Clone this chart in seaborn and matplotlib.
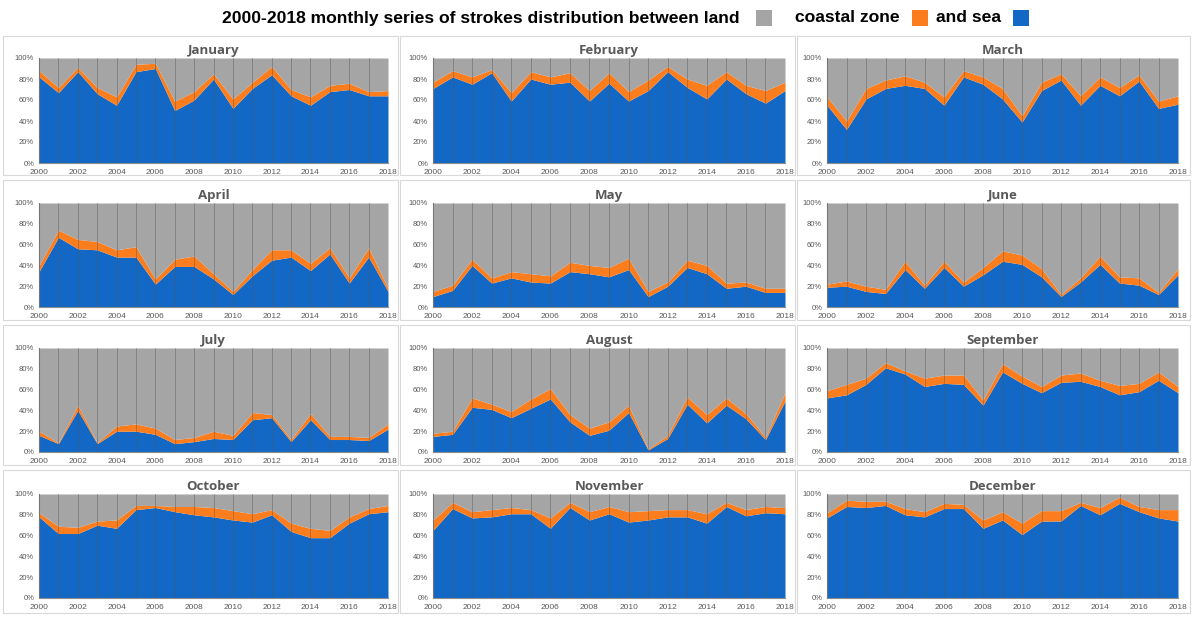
"""
2000-2018 monthly share of strokes over land, coastal zone and sea.
Stacked area panels, one per month.
"""

import matplotlib
matplotlib.use("Agg")
import matplotlib.pyplot as plt
from matplotlib.patches import Rectangle
from matplotlib.ticker import PercentFormatter
import numpy as np
import seaborn as sns

years = list(range(2000, 2019))
months = ["January", "February", "March", "April", "May", "June",
          "July", "August", "September", "October", "November", "December"]

# share over sea (%) and cumulative share sea + coastal zone (%); land is the rest
jan_sea = [82, 67, 87, 66, 55, 87, 90, 50, 60, 80, 52, 71, 84, 64, 55, 68, 70, 64, 64]
jan_top = [88, 72, 91, 72, 63, 94, 95, 59, 68, 85, 61, 77, 92, 70, 63, 74, 76, 68, 69]
feb_sea = [71, 82, 75, 86, 59, 80, 75, 77, 59, 76, 59, 69, 87, 72, 61, 80, 66, 57, 69]
feb_top = [77, 88, 82, 89, 67, 87, 82, 86, 69, 86, 68, 79, 92, 80, 74, 87, 74, 69, 77]
mar_sea = [55, 32, 61, 71, 74, 71, 55, 82, 75, 61, 39, 69, 79, 55, 74, 64, 78, 52, 56]
mar_top = [63, 40, 71, 79, 83, 77, 63, 88, 82, 71, 45, 77, 85, 64, 82, 72, 84, 59, 64]
apr_sea = [34, 67, 56, 55, 48, 48, 22, 39, 39, 27, 12, 30, 45, 48, 35, 51, 23, 48, 15]
apr_top = [40, 74, 65, 63, 55, 58, 27, 46, 49, 32, 15, 36, 55, 55, 42, 57, 28, 57, 18]
may_sea = [10, 16, 40, 23, 28, 24, 23, 34, 32, 29, 36, 10, 20, 38, 32, 18, 20, 14, 14]
may_top = [15, 21, 46, 28, 34, 32, 30, 43, 40, 38, 47, 15, 24, 45, 40, 23, 24, 18, 18]
jun_sea = [19, 20, 15, 13, 36, 18, 38, 20, 31, 44, 41, 29, 10, 24, 41, 23, 21, 12, 31]
jun_top = [22, 25, 20, 17, 44, 21, 44, 24, 38, 54, 50, 37, 12, 28, 49, 29, 28, 14, 37]
jul_sea = [16, 8, 40, 8, 20, 20, 17, 8, 10, 13, 12, 31, 33, 10, 31, 12, 12, 11, 22]
jul_top = [20, 9, 45, 9, 25, 27, 23, 12, 14, 20, 16, 38, 36, 12, 37, 15, 15, 14, 27]
aug_sea = [15, 17, 43, 41, 33, 42, 51, 29, 16, 21, 38, 2, 13, 46, 28, 45, 32, 12, 49]
aug_top = [18, 20, 52, 46, 39, 51, 61, 36, 23, 29, 45, 3, 16, 53, 36, 52, 37, 14, 57]
sep_sea = [52, 55, 65, 81, 75, 63, 66, 65, 45, 77, 66, 57, 67, 68, 63, 55, 58, 69, 57]
sep_top = [59, 65, 71, 86, 78, 71, 74, 74, 50, 85, 73, 63, 74, 76, 69, 64, 66, 77, 63]
oct_sea = [78, 62, 62, 70, 67, 85, 87, 83, 80, 78, 75, 73, 80, 64, 58, 58, 72, 81, 83]
oct_top = [82, 69, 68, 74, 75, 89, 89, 88, 88, 87, 84, 81, 85, 72, 67, 65, 78, 86, 89]
nov_sea = [65, 86, 77, 78, 81, 81, 67, 87, 75, 81, 73, 75, 78, 78, 72, 88, 79, 82, 81]
nov_top = [75, 92, 83, 85, 87, 85, 77, 92, 83, 88, 83, 84, 85, 85, 81, 92, 85, 88, 87]
dec_sea = [77, 88, 87, 89, 80, 78, 86, 86, 67, 75, 61, 74, 74, 89, 80, 91, 83, 77, 74]
dec_top = [82, 94, 93, 93, 86, 83, 91, 90, 75, 83, 72, 84, 84, 92, 87, 97, 88, 85, 85]

sea_series = [jan_sea, feb_sea, mar_sea, apr_sea, may_sea, jun_sea,
              jul_sea, aug_sea, sep_sea, oct_sea, nov_sea, dec_sea]
top_series = [jan_top, feb_top, mar_top, apr_top, may_top, jun_top,
              jul_top, aug_top, sep_top, oct_top, nov_top, dec_top]

LAND = "#a5a5a5"
COAST = "#fb7d1e"
SEA = "#1268c4"
TEXT = "#595959"

sns.set_theme(style="white")
plt.rcParams["font.family"] = ["Liberation Sans", "DejaVu Sans"]

W, H = 1192, 617
fig = plt.figure(figsize=(W / 100, H / 100), dpi=100)

# panel plot areas in pixels: left x, right x; top y, bottom y
col_x = [(39, 388), (433, 785), (827, 1178)]
row_y = [(58, 163), (203, 307), (348, 452), (494, 598)]

for i, month in enumerate(months):
    r, c = divmod(i, 3)
    x0, x1 = col_x[c]
    y0, y1 = row_y[r]
    ax = fig.add_axes([x0 / W, 1 - y1 / H, (x1 - x0) / W, (y1 - y0) / H])

    sea = np.array(sea_series[i])
    top = np.array(top_series[i])
    coast = top - sea
    land = 100 - top
    ax.stackplot(years, sea, coast, land, colors=[SEA, COAST, LAND], linewidth=0)

    for yr in years:
        ax.axvline(yr, color="#555555", lw=0.6, alpha=0.5, zorder=3)

    ax.set_xlim(2000, 2018)
    ax.set_ylim(0, 100)
    ax.set_yticks(range(0, 101, 20))
    ax.yaxis.set_major_formatter(PercentFormatter(decimals=0))
    ax.set_xticks(years[::2])
    ax.set_xticks(years, minor=True)
    ax.tick_params(axis="both", labelsize=5.5, colors=TEXT, length=2, width=0.6, pad=1.5)
    ax.tick_params(axis="x", which="minor", length=2, width=0.6, color=TEXT)
    ax.tick_params(axis="x", labelsize=6, pad=2)
    sns.despine(ax=ax, top=True, right=True)
    for s in ("left", "bottom"):
        ax.spines[s].set_color("#8c8c8c")
        ax.spines[s].set_linewidth(0.8)
    ax.set_title(month, fontsize=9.5, fontweight="bold", color=TEXT, pad=3,
                 family=["Open Sans", "DejaVu Sans"])

# thin frames around each panel
for c, (x0, x1) in enumerate([(3, 398), (400, 795), (797, 1190)]):
    for r, (y0, y1) in enumerate([(36, 175), (180, 320), (325, 465), (470, 613)]):
        fig.patches.append(Rectangle((x0 / W, 1 - y1 / H), (x1 - x0) / W, (y1 - y0) / H,
                                     transform=fig.transFigure, fill=False,
                                     edgecolor="#d9d9d9", lw=0.8))

# title with inline legend swatches
ty = 1 - 18 / H
fig.text(222 / W, ty, "2000-2018 monthly series of strokes distribution between land",
         fontsize=12.6, fontweight="bold", va="center", ha="left", color="black")
fig.text(795 / W, ty, "coastal zone", fontsize=12.6, fontweight="bold",
         va="center", ha="left", color="black")
fig.text(936 / W, ty, "and sea", fontsize=12.6, fontweight="bold",
         va="center", ha="left", color="black")
for sx, col in [(756, LAND), (912, COAST), (1013, SEA)]:
    fig.patches.append(Rectangle((sx / W, 1 - 26 / H), 16 / W, 16 / H,
                                 transform=fig.transFigure, facecolor=col, edgecolor="none"))

fig.savefig("out.png", dpi=100, facecolor="white")
